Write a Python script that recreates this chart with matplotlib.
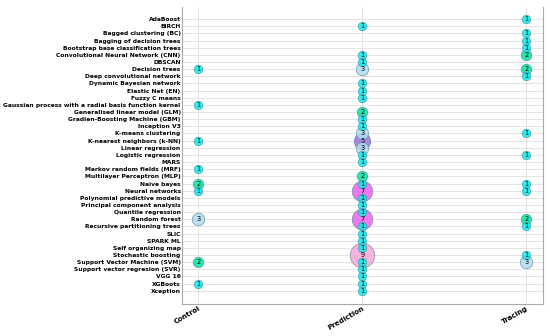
import matplotlib
matplotlib.use('Agg')
import matplotlib.pyplot as plt
import numpy as np

# methods (top to bottom)
methods = [
    "AdaBoost", "BIRCH", "Bagged clustering (BC)", "Bagging of decision trees",
    "Bootstrap base classification trees", "Convolutional Neural Network (CNN)",
    "DBSCAN", "Decision trees", "Deep convolutional network",
    "Dynamic Bayesian network", "Elastic Net (EN)", "Fuzzy C means",
    "Gaussian process with a radial basis function kernel",
    "Generalised linear model (GLM)", "Gradien-Boosting Machine (GBM)",
    "Inception V3", "K-means clustering", "K-nearest neighbors (k-NN)",
    "Linear regression", "Logistic regression", "MARS",
    "Markov random fields (MRF)", "Multilayer Perceptron (MLP)", "Naive bayes",
    "Neural networks", "Polynomial predictive models",
    "Principal component analysis", "Quantile regression", "Random forest",
    "Recursive partitioning trees", "SLIC", "SPARK ML", "Self organizing map",
    "Stochastic boosting", "Support Vector Machine (SVM)",
    "Support vector regresion (SVR)", "VGG 16", "XGBoots", "Xception",
]
uses = ["Control", "Prediction", "Tracing"]

# number of studies per method, 0 = none
control = [0, 0, 0, 0, 0, 0, 0, 1, 0, 0, 0, 0, 1, 0, 0, 0, 0, 1, 0, 0,
           0, 1, 0, 2, 1, 0, 0, 0, 3, 0, 0, 0, 0, 0, 2, 0, 0, 1, 0]
prediction = [0, 1, 0, 0, 0, 1, 1, 3, 0, 1, 1, 1, 0, 2, 1, 1, 3, 5, 3, 1,
              1, 0, 2, 1, 7, 1, 1, 1, 7, 1, 1, 1, 1, 9, 1, 1, 1, 1, 1]
tracing = [1, 0, 1, 1, 1, 2, 0, 2, 1, 0, 0, 0, 0, 0, 0, 0, 1, 0, 0, 1,
           0, 0, 0, 1, 1, 0, 0, 0, 2, 1, 0, 0, 0, 1, 3, 0, 0, 0, 0]

colors = {1: '#00f0f0', 2: '#00e5a0', 3: '#b0dcf0', 5: '#a070e0',
          7: '#f060f0', 9: '#f7a6d6'}

fig, ax = plt.subplots(figsize=(5.5, 3.36), dpi=100)
fig.subplots_adjust(left=0.331, right=0.987, top=0.979, bottom=0.095)

pts = []
for xi, col in enumerate([control, prediction, tracing]):
    for yi, v in enumerate(col):
        if v > 0:
            pts.append((xi, yi, v))
# big bubbles first so small ones stay visible
pts.sort(key=lambda p: -p[2])
for xi, yi, v in pts:
    d_px = 6.5 + 2 * v
    s = (d_px * 72 / 100) ** 2
    ax.scatter(xi, yi, s=s, color=colors[v], alpha=0.85,
               edgecolors='#5a8a9a', linewidths=0.5, zorder=3)
    ax.text(xi, yi, str(v), ha='center', va='center', fontsize=4.8,
            color='black', zorder=4)

ax.set_xticks(range(len(uses)))
ax.set_xticklabels(uses, rotation=30, ha='right', rotation_mode='anchor',
                   fontsize=5, fontweight='bold')
ax.set_yticks(range(len(methods)))
ax.set_yticklabels(methods, fontsize=4.3, fontweight='bold')
ax.set_xlim(-0.1, 2.1)
ax.set_ylim(len(methods) - 1 + 1.86, -1.68)

ax.grid(True, color='#e4e4e4', linewidth=0.7, zorder=0)
ax.set_axisbelow(True)
ax.tick_params(length=0, pad=1)
ax.spines['top'].set_visible(False)
for sp in ['left', 'right', 'bottom']:
    ax.spines[sp].set_color('#aaaaaa')
    ax.spines[sp].set_linewidth(0.8)

plt.savefig('out.png', dpi=100)
